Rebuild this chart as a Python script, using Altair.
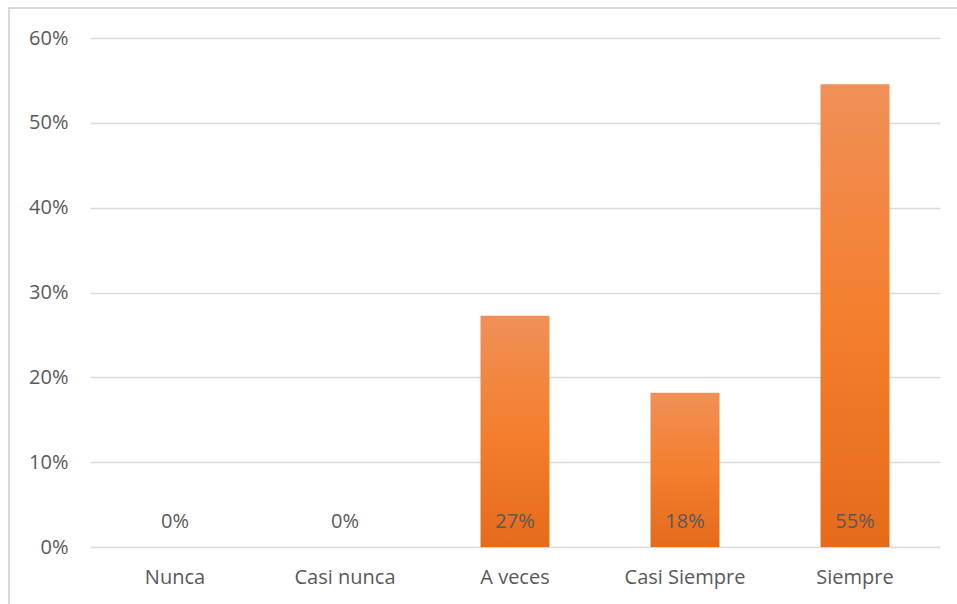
import altair as alt
import pandas as pd

categories = ["Nunca", "Casi nunca", "A veces", "Casi Siempre", "Siempre"]
values = [0.0, 0.0, 0.2727, 0.1818, 0.5455]
labels = ["0%", "0%", "27%", "18%", "55%"]

df = pd.DataFrame({"cat": categories, "val": values, "lab": labels})

FONT = "Open Sans"
TXT = "#595959"
FS = 20

x = alt.X("cat:N", sort=categories, title=None,
          scale=alt.Scale(paddingInner=0, paddingOuter=0),
          axis=alt.Axis(labelAngle=0, domain=False, ticks=False, labelPadding=20,
                        labelFontSize=FS, labelColor=TXT, labelFont=FONT))
y = alt.Y("val:Q", title=None,
          scale=alt.Scale(domain=[0, 0.6], nice=False),
          axis=alt.Axis(format=".0%", values=[0, 0.1, 0.2, 0.3, 0.4, 0.5, 0.6],
                        domain=False, ticks=False, labelPadding=22,
                        labelFontSize=FS, labelColor=TXT, labelFont=FONT,
                        gridColor="#D9D9D9", gridWidth=1.5))

grad = alt.Gradient(
    gradient="linear", x1=0, y1=0, x2=0, y2=1,
    stops=[alt.GradientStop(color="#F09058", offset=0),
           alt.GradientStop(color="#F47F2E", offset=0.5),
           alt.GradientStop(color="#E56B1C", offset=1)])

bars = alt.Chart(df).mark_bar(size=69, fill=grad).encode(x=x, y=y)

text = alt.Chart(df).mark_text(dy=-25, fontSize=FS, font=FONT, color=TXT).encode(
    x=alt.X("cat:N", sort=categories),
    y=alt.datum(0),
    text="lab:N")

border = alt.Chart(df).mark_rect(fill=None, stroke="#D9D9D9", strokeWidth=1.5).encode(
    x=alt.value(-81), y=alt.value(-30), x2=alt.value(1000), y2=alt.value(700))

chart = alt.layer(border, bars, text).properties(
    width=850, height=509,
    autosize=alt.AutoSizeParams(type="none"),
    padding={"left": 90, "top": 38, "right": 17, "bottom": 57},
    background="white",
).configure_view(stroke=None)

chart.save("out.html", embed_options={"renderer": "svg", "actions": False})
